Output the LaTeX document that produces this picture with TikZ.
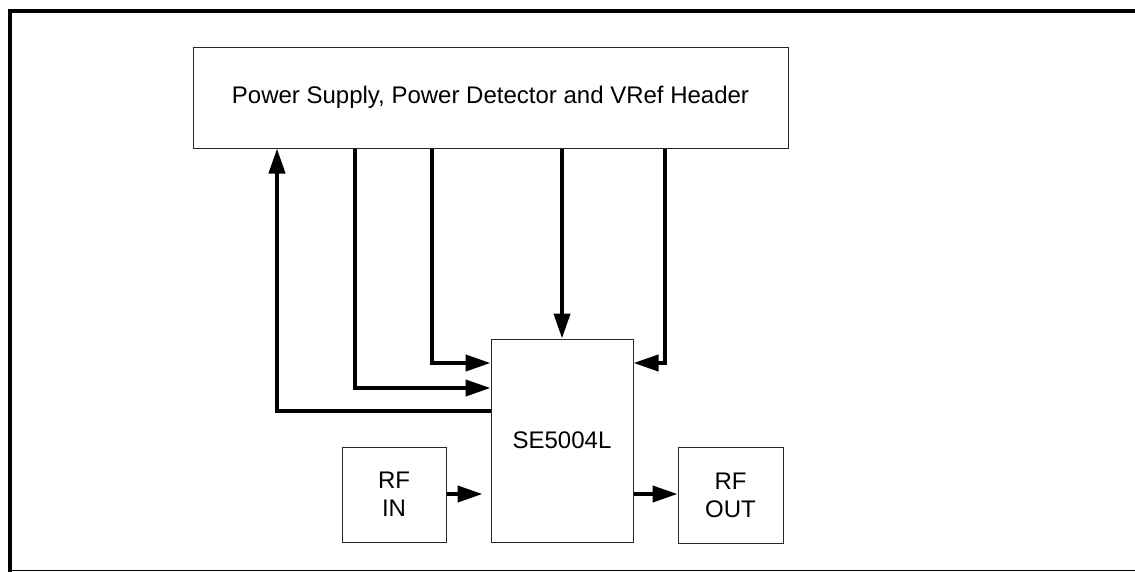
\documentclass[tikz,border=0pt]{standalone}
\usepackage{fontspec}
\setmainfont{Liberation Sans}
\usetikzlibrary{arrows.meta,positioning,calc}

\begin{document}
\begin{tikzpicture}[x=1pt,y=-1pt,
  box/.style={draw=black!85,line width=1pt,fill=white,inner sep=0pt,font=\fontsize{24}{28}\selectfont,align=center},
  wire/.style={line width=4pt,line join=miter},
  arr/.style={wire,-{Triangle[length=25pt,width=16pt]}},
]
  \useasboundingbox (0,0) rectangle (1135,571);
  % outer frame
  \draw[line width=4pt] (1140,10.5) -- (9.5,10.5) -- (9.5,572);
  \draw[line width=1pt] (9.5,570) -- (1140,570);

  \node[box,minimum width=595pt,minimum height=101pt] (hdr) at (490.5,97.5) {Power Supply, Power Detector and VRef Header};
  \node[box,minimum width=142pt,minimum height=203pt] (chip) at (562,440.5) {SE5004L};
  \node[box,minimum width=104pt,minimum height=95pt] (rfin) at (394,494.5) {RF\\IN};
  \node[box,minimum width=105pt,minimum height=96pt] (rfout) at (730.5,495) {RF\\OUT};

  \draw[arr] (chip.west |- 0,411) -| (hdr.south -| 277,0);
  \draw[arr] (hdr.south -| 355,0) |- (chip.west |- 0,388);
  \draw[arr] (hdr.south -| 432,0) |- (chip.west |- 0,363);
  \draw[arr] (hdr.south -| chip.north) -- (chip.north);
  \draw[arr] (hdr.south -| 665,0) |- (chip.east |- 0,363);

  \draw[arr,shorten >=8pt] (rfin.east |- 0,494) -- (chip.west |- 0,494);
  \draw[arr] (chip.east |- 0,494) -- (rfout.west |- 0,494);
\end{tikzpicture}
\end{document}
